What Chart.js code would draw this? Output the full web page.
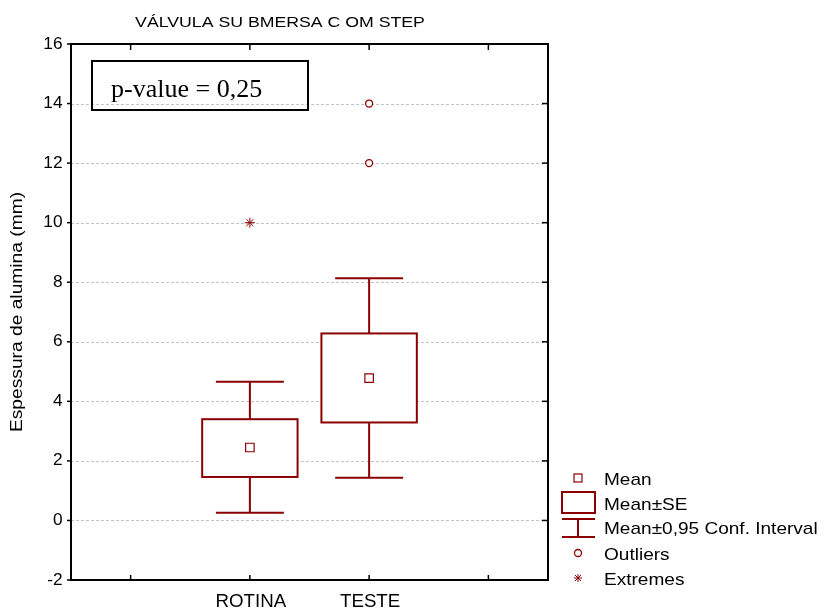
<!DOCTYPE html>
<html>
<head>
<meta charset="utf-8">
<title>Válvula submersa com step</title>
<script src="https://cdn.jsdelivr.net/npm/chart.js@4.4.1/dist/chart.umd.min.js"></script>
<style>
  html, body { margin: 0; padding: 0; background: #fff; }
  canvas { display: block; }
</style>
</head>
<body>
<canvas id="boxChart" width="825" height="609"></canvas>
<script>
// x slots: empty slot at each end, like the original plot
const categories = ["", "ROTINA", "TESTE", ""];
const groupPos = [1, 2];

// mean, mean +/- SE, mean +/- 0,95 CI
const means = [2.45, 4.78];
const seLow = [1.46, 3.29];
const seHigh = [3.40, 6.28];
const ciLow = [0.26, 1.43];
const ciHigh = [4.66, 8.13];

// outliers and extremes
const outlierPos = [2, 2];
const outlierVals = [12, 14];
const extremePos = [1];
const extremeVals = [10];

const yTicks = [-2, 0, 2, 4, 6, 8, 10, 12, 14, 16];

const RED = "#8b0000";
const SANS = '"Liberation Sans", Arial, sans-serif';

function drawText(ctx, str, x, y, o) {
    ctx.save();
    ctx.font = o.font;
    ctx.fillStyle = o.color || "#000";
    ctx.textAlign = o.align || "left";
    ctx.textBaseline = o.baseline || "alphabetic";
    ctx.translate(x, y);
    if (o.rotate) ctx.rotate(o.rotate);
    ctx.scale(o.sx || 1, 1);
    ctx.fillText(str, 0, 0);
    ctx.restore();
}

function line(ctx, x1, y1, x2, y2) {
    ctx.beginPath();
    ctx.moveTo(x1, y1);
    ctx.lineTo(x2, y2);
    ctx.stroke();
}

const boxPlugin = {
    id: "boxPlugin",
    beforeDatasetsDraw(chart) {
        const { ctx, chartArea: a, scales: { x, y } } = chart;
        ctx.save();
        // dashed horizontal grid
        ctx.strokeStyle = "#c4c4c4";
        ctx.lineWidth = 1;
        ctx.setLineDash([3, 2]);
        yTicks.forEach(v => {
            if (v === y.min || v === y.max) return;
            const py = Math.round(y.getPixelForValue(v)) + 0.5;
            line(ctx, a.left, py, a.right, py);
        });
        ctx.setLineDash([]);

        // whiskers and SE boxes
        ctx.strokeStyle = RED;
        ctx.lineWidth = 2;
        groupPos.forEach((pos, i) => {
            const cx = x.getPixelForValue(pos);
            const bl = x.getPixelForValue(pos - 0.4);
            const br = x.getPixelForValue(pos + 0.4);
            const cl = x.getPixelForValue(pos - 0.285);
            const cr = x.getPixelForValue(pos + 0.285);
            const yCiL = y.getPixelForValue(ciLow[i]);
            const yCiH = y.getPixelForValue(ciHigh[i]);
            const ySeL = y.getPixelForValue(seLow[i]);
            const ySeH = y.getPixelForValue(seHigh[i]);
            line(ctx, cx, yCiH, cx, ySeH);
            line(ctx, cx, ySeL, cx, yCiL);
            line(ctx, cl, yCiH, cr, yCiH);
            line(ctx, cl, yCiL, cr, yCiL);
            ctx.fillStyle = "#fff";
            ctx.fillRect(bl, ySeH, br - bl, ySeL - ySeH);
            ctx.strokeRect(bl, ySeH, br - bl, ySeL - ySeH);
        });
        ctx.restore();
    },
    afterDraw(chart) {
        const { ctx, chartArea: a, scales: { x, y } } = chart;
        ctx.save();

        // frame and tick marks
        ctx.strokeStyle = "#000";
        ctx.lineWidth = 2;
        ctx.strokeRect(a.left, a.top, a.right - a.left, a.bottom - a.top);
        ctx.lineWidth = 1.5;
        yTicks.forEach(v => {
            const py = y.getPixelForValue(v);
            line(ctx, a.left - 4, py, a.left, py);
            line(ctx, a.right - 6, py, a.right, py);
            drawText(ctx, String(v), a.left - 8.5, py + 4.5, { font: "16px " + SANS, align: "right", sx: 1.08 });
        });
        categories.forEach((c, i) => {
            const px = x.getPixelForValue(i);
            line(ctx, px, a.top, px, a.top + 6);
            line(ctx, px, a.bottom - 5, px, a.bottom);
            if (c) drawText(ctx, c, px + 1, a.bottom + 27, { font: "18px " + SANS, align: "center", sx: 1.04 });
        });

        // titles
        drawText(ctx, "VÁLVULA SU BMERSA C OM STEP", 280, 27, { font: "15px " + SANS, align: "center", sx: 1.18 });
        drawText(ctx, "Espessura de alumina (mm)", 18, (a.top + a.bottom) / 2,
            { font: "16px " + SANS, align: "center", baseline: "middle", rotate: -Math.PI / 2, sx: 1.2 });

        // p-value box
        ctx.lineWidth = 2;
        ctx.strokeRect(a.left + 21, a.top + 17, 216, 49);
        drawText(ctx, "p-value = 0,25", a.left + 40, 97,
            { font: '26px "Liberation Serif", "Times New Roman", serif' });

        // legend
        const lx = 578, tx = 604;
        ctx.strokeStyle = RED;
        ctx.lineWidth = 1.2;
        ctx.strokeRect(574, 474, 8, 8);
        ctx.lineWidth = 2;
        ctx.strokeRect(562, 492, 33, 21);
        line(ctx, 562, 519, 595, 519);
        line(ctx, 562, 537, 595, 537);
        line(ctx, lx, 519, lx, 537);
        ctx.lineWidth = 1.3;
        ctx.beginPath();
        ctx.arc(lx, 553, 3.5, 0, Math.PI * 2);
        ctx.stroke();
        ctx.lineWidth = 1;
        line(ctx, lx - 4, 578, lx + 4, 578);
        line(ctx, lx, 574, lx, 582);
        line(ctx, lx - 3, 575, lx + 3, 581);
        line(ctx, lx - 3, 581, lx + 3, 575);
        const lf = { font: "17px " + SANS, sx: 1.12 };
        drawText(ctx, "Mean", tx, 485, lf);
        drawText(ctx, "Mean±SE", tx, 509.5, lf);
        drawText(ctx, "Mean±0,95 Conf. Interval", tx, 533.5, lf);
        drawText(ctx, "Outliers", tx, 560, lf);
        drawText(ctx, "Extremes", tx, 585, lf);

        ctx.restore();
    }
};

new Chart(document.getElementById("boxChart").getContext("2d"), {
    type: "scatter",
    data: {
        datasets: [
            {
                label: "Mean",
                data: groupPos.map((p, i) => ({ x: p, y: means[i] })),
                pointStyle: "rect",
                pointRadius: 6,
                borderColor: RED,
                backgroundColor: "#fff",
                borderWidth: 1.2
            },
            {
                label: "Outliers",
                data: outlierPos.map((p, i) => ({ x: p, y: outlierVals[i] })),
                pointStyle: "circle",
                pointRadius: 3.5,
                borderColor: RED,
                backgroundColor: "#fff",
                borderWidth: 1.3
            },
            {
                label: "Extremes",
                data: extremePos.map((p, i) => ({ x: p, y: extremeVals[i] })),
                pointStyle: "star",
                pointRadius: 5,
                borderColor: RED,
                borderWidth: 1
            }
        ]
    },
    options: {
        responsive: false,
        animation: false,
        events: [],
        layout: { padding: { left: 0, top: 44, right: 277, bottom: 0 } },
        plugins: { legend: { display: false }, tooltip: { enabled: false } },
        scales: {
            x: {
                type: "linear",
                min: -0.5,
                max: categories.length - 0.5,
                afterBuildTicks: s => { s.ticks = categories.map((c, i) => ({ value: i })); },
                afterFit: s => { s.height = 29; },
                ticks: { display: false },
                grid: { display: false },
                border: { display: false }
            },
            y: {
                min: yTicks[0],
                max: yTicks[yTicks.length - 1],
                afterBuildTicks: s => { s.ticks = yTicks.map(v => ({ value: v })); },
                afterFit: s => { s.width = 71; },
                ticks: { display: false },
                grid: { display: false },
                border: { display: false }
            }
        }
    },
    plugins: [boxPlugin]
});
</script>
</body>
</html>
